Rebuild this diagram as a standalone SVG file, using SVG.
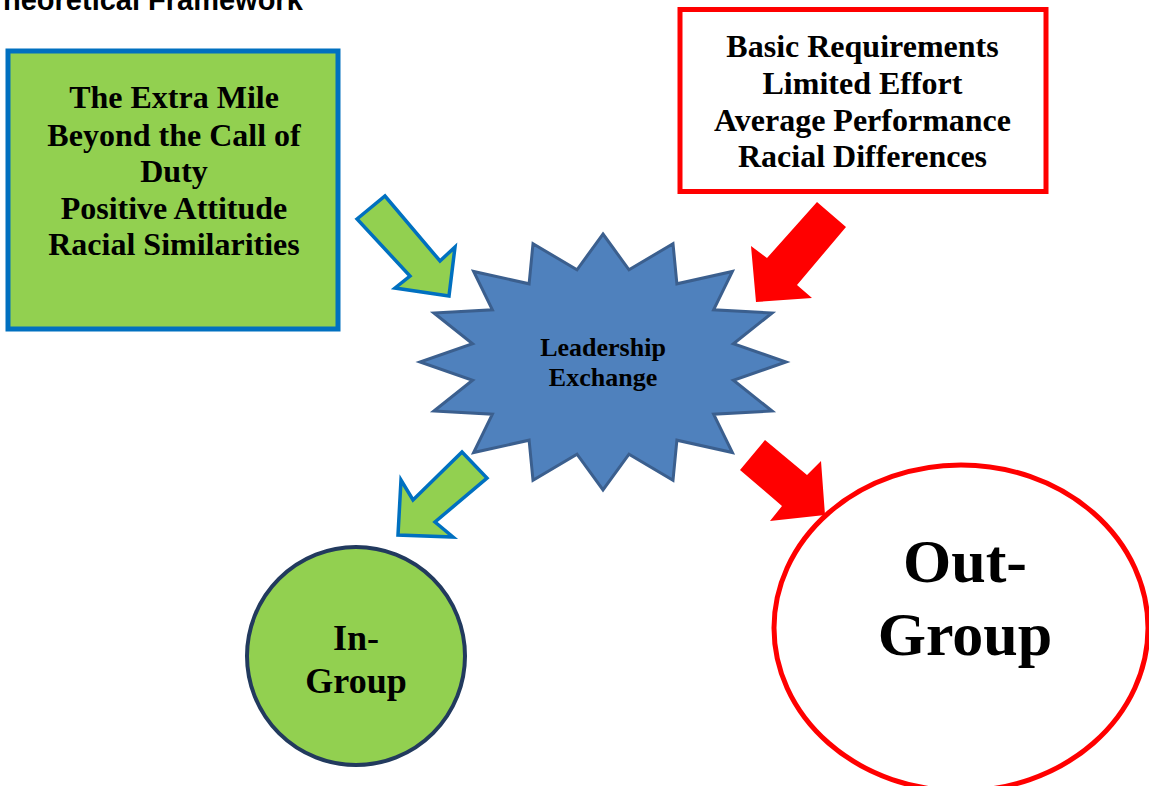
<svg xmlns="http://www.w3.org/2000/svg" width="1149" height="786" viewBox="0 0 1149 786">
<style>
.t{font-family:"Liberation Serif","Times New Roman",serif;font-weight:bold;fill:#000;text-anchor:middle}
.b{font-size:32px}
.title{font-family:"Liberation Sans",Arial,sans-serif;font-weight:bold;font-size:29px;fill:#000}
.ga{fill:#92D050;stroke:#0070C0;stroke-width:3.5;stroke-linejoin:miter}
.ra{fill:#FF0000;stroke:none}
</style>
<rect width="1149" height="786" fill="#fff"/>
<text class="title" x="3" y="10">heoretical Framework</text>
<g id="positive-box">
<rect x="8" y="51" width="330" height="278" fill="#92D050" stroke="#0070C0" stroke-width="5"/>
<text class="t b" x="174" y="108">The Extra Mile</text>
<text class="t b" x="174" y="146">Beyond the Call of</text>
<text class="t b" x="174" y="182">Duty</text>
<text class="t b" x="174" y="219">Positive Attitude</text>
<text class="t b" x="174" y="255">Racial Similarities</text>
</g>
<g id="negative-box">
<rect x="680" y="9.5" width="366" height="182" fill="#fff" stroke="#FF0000" stroke-width="5"/>
<text class="t b" x="862.5" y="57">Basic Requirements</text>
<text class="t b" x="862.5" y="94">Limited Effort</text>
<text class="t b" x="862.5" y="131">Average Performance</text>
<text class="t b" x="862.5" y="167">Racial Differences</text>
</g>
<g id="leadership-exchange">
<polygon fill="#4F81BD" stroke="#3B5F8E" stroke-width="3" stroke-linejoin="miter" points="603,234 629,269.8 673,243.7 676.9,283.8 732.4,271.5 713.6,309.8 772.1,313 733.4,343.7 786,362 733.4,380.3 772.1,411 713.6,414.2 732.4,452.5 676.9,440.2 673,480.3 629,454.2 603,490 577,454.2 533,480.3 529.1,440.2 473.6,452.5 492.4,414.2 433.9,411 472.6,380.3 420,362 472.6,343.7 433.9,313 492.4,309.8 473.6,271.5 529.1,283.8 533,243.7 577,269.8"/>
<text class="t" style="font-size:26px" x="603" y="356">Leadership</text>
<text class="t" style="font-size:26px" x="603" y="386">Exchange</text>
</g>
<g id="in-group">
<circle cx="356" cy="656" r="109" fill="#92D050" stroke="#223A5E" stroke-width="4"/>
<text class="t" style="font-size:36px" x="356" y="650">In-</text>
<text class="t" style="font-size:36px" x="356" y="693">Group</text>
</g>
<g id="out-group">
<ellipse cx="961" cy="628" rx="187" ry="163" fill="#fff" stroke="#FF0000" stroke-width="5"/>
<text class="t" style="font-size:62px" x="965" y="582">Out-</text>
<text class="t" style="font-size:62px" x="965" y="655">Group</text>
</g>
<g id="connectors">
<polygon class="ga" points="357,219 385,196 440,261 455,247 449,296 395,288 410,276"/>
<polygon class="ra" points="817,202 846,227 797,285 812,298 756,302 751,246 767,258"/>
<polygon class="ga" points="462,452 487,478 435,522 453,537 398,535 401,480 413,500"/>
<polygon class="ra" points="740,470 765,440 807,475 821,461 825,515 770,521 782,506"/>
</g>
</svg>
